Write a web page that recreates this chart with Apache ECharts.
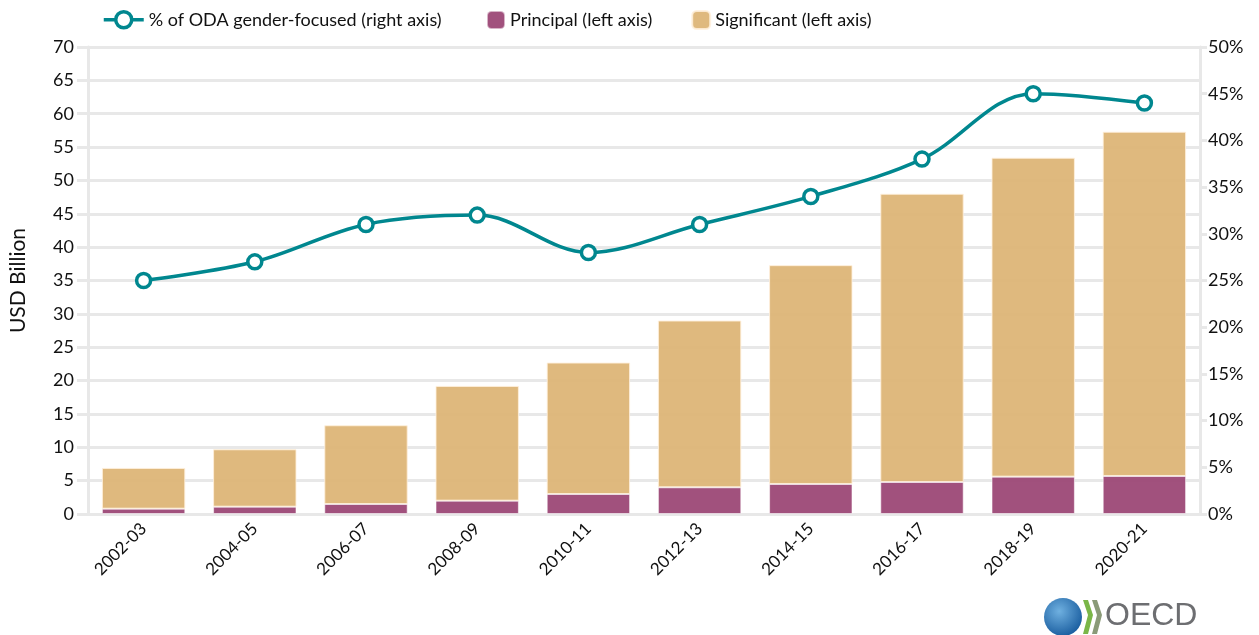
<!DOCTYPE html>
<html>
<head>
<meta charset="utf-8">
<script src="https://cdn.jsdelivr.net/npm/echarts@6/dist/echarts.min.js"></script>
<style>
  html, body { margin: 0; padding: 0; background: #fff; }
  #chart { width: 1259px; height: 635px; }
</style>
</head>
<body>
<div id="chart"></div>
<script>
// data
const periods = ['2002-03', '2004-05', '2006-07', '2008-09', '2010-11',
  '2012-13', '2014-15', '2016-17', '2018-19', '2020-21'];
const principal = [0.8, 1.1, 1.5, 2.0, 3.0, 4.0, 4.5, 4.8, 5.6, 5.7];
const significant = [6.1, 8.6, 11.8, 17.2, 19.7, 25.0, 32.8, 43.2, 47.8, 51.6];
const sharePct = [25, 27, 31, 32, 28, 31, 34, 38, 45, 44];

const FONT = 'Lato';
const TEAL = '#00878f';
const PURPLE = '#9c4876';
const TAN = '#ddb577';
const GRIDC = '#e8e8e8';

const chart = echarts.init(document.getElementById('chart'));

const option = {
  animation: false,
  textStyle: { fontFamily: FONT, color: '#111' },
  legend: [
    {
      left: 97, top: 5,
      itemWidth: 40, itemHeight: 20,
      textStyle: { fontSize: 18, color: '#111', fontFamily: FONT },
      data: [{
        name: '% of ODA gender-focused (right axis)',
        lineStyle: { width: 3.5 },
        itemStyle: { borderWidth: 3.5 }
      }]
    },
    {
      left: 481, top: 5,
      itemWidth: 18, itemHeight: 18, itemGap: 39,
      textStyle: { fontSize: 18, color: '#111', fontFamily: FONT },
      data: ['Principal (left axis)', 'Significant (left axis)']
    }
  ],
  grid: { left: 84, right: 59, top: 47, bottom: 121 },
  xAxis: {
    type: 'category',
    data: periods,
    axisLine: { lineStyle: { color: GRIDC, width: 3 } },
    axisTick: { alignWithLabel: true, inside: true, length: 11, lineStyle: { color: 'rgba(230,230,230,0.6)', width: 2 } },
    axisLabel: { rotate: 45, fontSize: 17, color: '#111', margin: 12 }
  },
  yAxis: [
    {
      type: 'value', min: 0, max: 70, interval: 5,
      name: 'USD Billion', nameLocation: 'middle', nameGap: 59,
      nameTextStyle: { fontSize: 21, color: '#111' },
      axisLine: { show: true, lineStyle: { color: GRIDC, width: 3 } },
      axisTick: { show: true, length: 11, lineStyle: { color: GRIDC, width: 3 } },
      axisLabel: { fontSize: 18, color: '#111', margin: 14 },
      splitLine: { lineStyle: { color: GRIDC, width: 3 } }
    },
    {
      type: 'value', min: 0, max: 50, interval: 5,
      position: 'right',
      axisLine: { show: true, lineStyle: { color: GRIDC, width: 3 } },
      axisTick: { show: true, length: 7, lineStyle: { color: GRIDC, width: 3 } },
      axisLabel: { fontSize: 18, color: '#111', formatter: '{value}%', margin: 8 },
      splitLine: { show: false }
    }
  ],
  series: [
    {
      name: 'Principal (left axis)',
      type: 'bar', stack: 'oda', yAxisIndex: 0,
      barCategoryGap: '25%',
      itemStyle: { color: PURPLE, opacity: 0.95, borderColor: 'rgba(255,255,255,0.6)', borderWidth: 1 },
      data: principal
    },
    {
      name: 'Significant (left axis)',
      type: 'bar', stack: 'oda', yAxisIndex: 0,
      itemStyle: { color: TAN, opacity: 0.95, borderColor: 'rgba(255,240,220,0.9)', borderWidth: 1 },
      data: significant
    },
    {
      name: '% of ODA gender-focused (right axis)',
      type: 'line', yAxisIndex: 1,
      smooth: 0.35,
      symbol: 'circle', symbolSize: 14,
      lineStyle: { color: TEAL, width: 3.5 },
      itemStyle: { color: '#fff', borderColor: TEAL, borderWidth: 3.5 },
      z: 5,
      data: sharePct
    }
  ],
  graphic: [
    {
      type: 'circle', shape: { cx: 1063, cy: 617, r: 19 },
      style: {
        fill: new echarts.graphic.RadialGradient(0.4, 0.35, 0.8, [
          { offset: 0, color: '#6fb0e0' }, { offset: 1, color: '#0b4f94' }
        ])
      }
    },
    { type: 'polygon', shape: { points: [[1083, 600], [1088, 600], [1093, 615], [1088, 634], [1083, 634], [1088, 615]] }, style: { fill: '#7ab648' } },
    { type: 'polygon', shape: { points: [[1092, 600], [1097, 600], [1102, 615], [1097, 634], [1092, 634], [1097, 615]] }, style: { fill: '#8a9a78' } },
    {
      type: 'text', left: 1105, top: 600,
      style: { text: 'OECD', font: '32px "Liberation Sans", Arial, sans-serif', fill: '#6d6e71' }
    }
  ]
};

chart.setOption(option);
</script>
</body>
</html>
